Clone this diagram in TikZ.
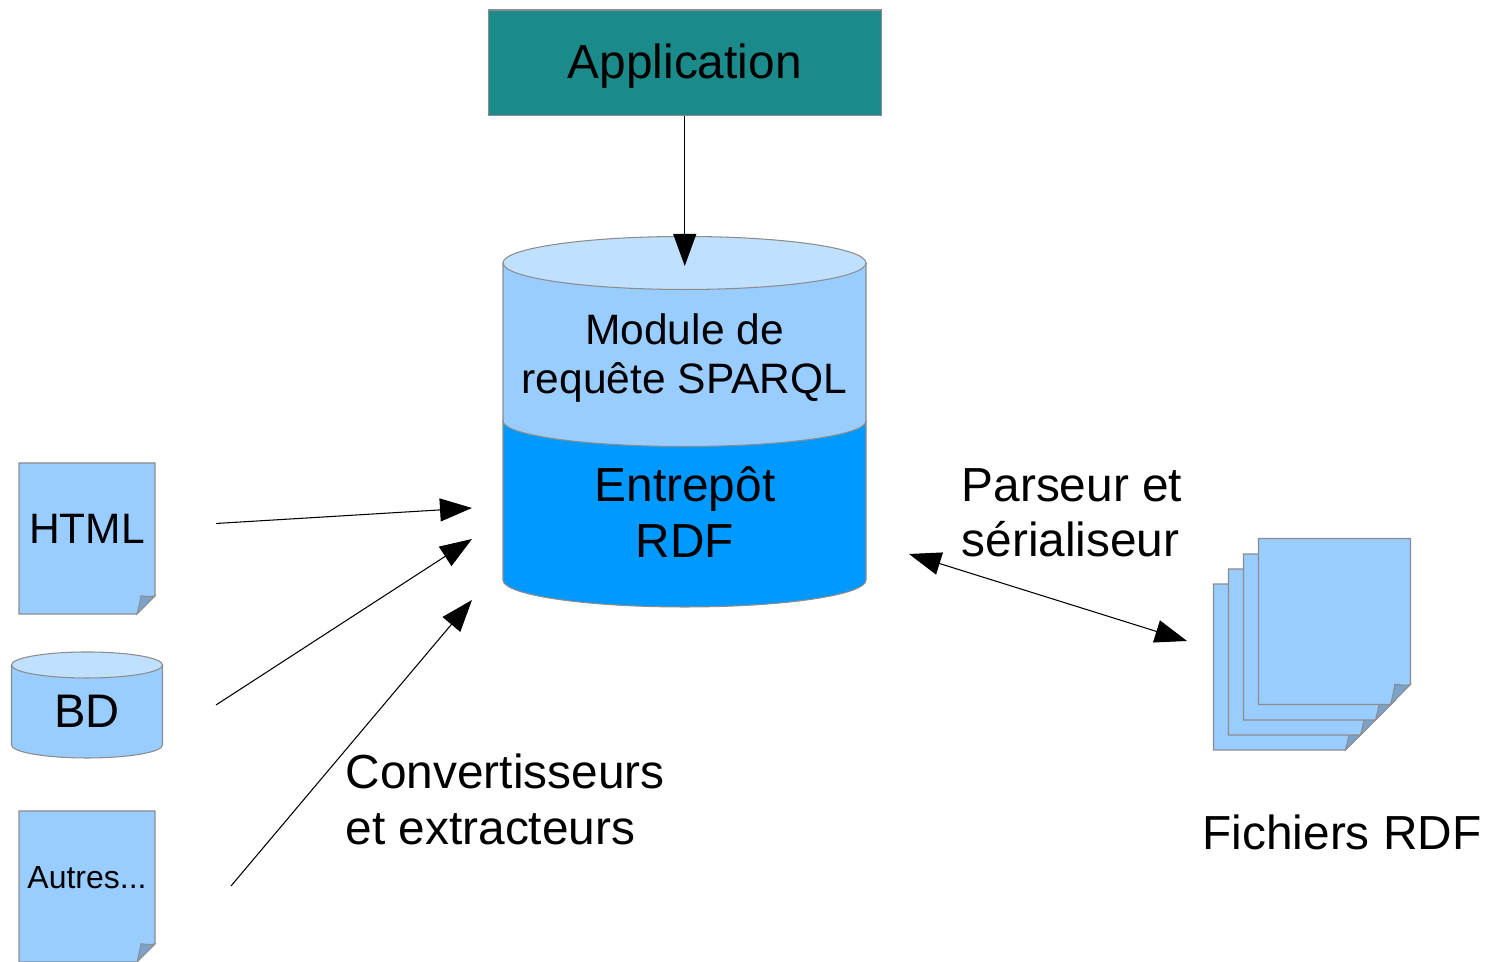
\documentclass[tikz,border=0pt]{standalone}
\usepackage{fontspec}
\setmainfont{Liberation Sans}
\usetikzlibrary{arrows.meta}
\definecolor{pagefill}{HTML}{99CCFF}
\definecolor{lidfill}{HTML}{C0E0FF}
\definecolor{storefill}{HTML}{0099FF}
\definecolor{foldfill}{HTML}{7AA3CC}
\definecolor{appfill}{HTML}{1A8A8A}
\definecolor{edgegray}{HTML}{8C8C8C}
\tikzset{
	shapeline/.style={line width=0.3pt, draw=edgegray},
	flow/.style={line width=0.3pt, -{Triangle[length=0.32cm,width=0.23cm]}},
	bothflow/.style={line width=0.3pt, {Triangle[length=0.32cm,width=0.23cm]}-{Triangle[length=0.32cm,width=0.23cm]}},
	bigtext/.style={inner sep=0, font=\fontsize{13.6}{15.8}\selectfont},
	midtext/.style={inner sep=0, font=\fontsize{12.1}{13.9}\selectfont},
}
% left, top, width, height, size of the fold
\def\notepage(#1,#2)(#3:#4:#5){
	\draw[shapeline, fill=pagefill] (#1, #2) -- ({#1+#3}, #2) -- ({#1+#3}, {#2-#4+#5}) -- ({#1+#3-#5}, {#2-#4}) -- (#1, {#2-#4}) -- cycle;
	\draw[shapeline, fill=foldfill] ({#1+#3}, {#2-#4+#5}) .. controls ({#1+#3-0.4*#5}, {#2-#4+0.9*#5}) and ({#1+#3-0.7*#5}, {#2-#4+1.05*#5}) .. ({#1+#3-0.78*#5}, {#2-#4+#5}) .. controls ({#1+#3-0.85*#5}, {#2-#4+0.6*#5}) .. ({#1+#3-#5}, {#2-#4}) -- cycle;
}
% centre x, y of the upper rim, half width, rim height, body height
\def\drumbody[#1](#2,#3)(#4:#5:#6){
	\draw[#1] ({#2-#4}, #3) -- ({#2-#4}, {#3-#6}) arc (180:360:#4 and #5) -- ({#2+#4}, #3) -- cycle;
}
\begin{document}
\begin{tikzpicture}
	%%%%% START %%%%%
	\useasboundingbox (0, 0) rectangle (14.86, 9.62);

	\node[shapeline, fill=appfill, minimum width=3.93cm, minimum height=1.055cm, inner sep=0] (app) at (6.8475, 8.9925) {};
	\node[bigtext] (applabel) at (6.8475, 8.96) {Application};

	\drumbody[shapeline, fill=storefill](6.845, 5.41)(1.815:0.27:1.59)
	\drumbody[shapeline, fill=pagefill](6.845, 6.99)(1.815:0.255:1.58)
	\draw[shapeline, fill=lidfill] (6.845, 6.99) ellipse (1.815 and 0.265);
	\node[midtext, align=center] (sparql) at (6.845, 6.04) {Module de\\requête SPARQL};
	\node[bigtext, align=center] (store) at (6.85, 4.5) {Entrepôt\\RDF};

	\notepage(0.19, 4.99)(1.36:1.51:0.18)
	\node[midtext] (html) at (0.87, 4.33) {HTML};

	\drumbody[shapeline, fill=pagefill](0.87, 2.97)(0.755:0.13:0.80)
	\draw[shapeline, fill=lidfill] (0.87, 2.97) ellipse (0.755 and 0.13);
	\node[inner sep=0, font=\fontsize{13.4}{15}\selectfont] (bd) at (0.87, 2.51) {BD};

	\notepage(0.19, 1.51)(1.36:1.51:0.18)
	\node[inner sep=0, font=\fontsize{9.1}{11}\selectfont] (autres) at (0.87, 0.84) {Autres...};

	\notepage(12.135, 3.78)(1.52:1.66:0.2)
	\notepage(12.285, 3.93)(1.52:1.66:0.2)
	\notepage(12.435, 4.08)(1.52:1.66:0.2)
	\notepage(12.585, 4.235)(1.52:1.66:0.2)

	\node[bigtext, anchor=west, align=left] (convert) at (3.45, 1.625) {Convertisseurs\\et extracteurs};
	\node[bigtext, anchor=west, align=left] (parser) at (9.61, 4.49) {Parseur et\\sérialiseur};
	\node[bigtext] (files) at (13.42, 1.30) {Fichiers RDF};

	\coordinate (appin) at (app.south |- 0, 6.96);
	\coordinate (htmlout) at (2.16, 4.385);
	\coordinate (htmlin) at (4.72, 4.54);
	\coordinate (bdout) at (2.16, 2.57);
	\coordinate (bdin) at (4.72, 4.23);
	\coordinate (autresout) at (2.31, 0.76);
	\coordinate (autresin) at (4.72, 3.62);
	\coordinate (storeport) at (9.09, 4.08);
	\coordinate (filesport) at (11.87, 3.21);

	\draw[flow] (app.south) -- (appin);
	\draw[flow] (htmlout) -- (htmlin);
	\draw[flow] (bdout) -- (bdin);
	\draw[flow] (autresout) -- (autresin);
	\draw[bothflow] (storeport) -- (filesport);
	%%%%% END %%%%%
\end{tikzpicture}
\end{document}
